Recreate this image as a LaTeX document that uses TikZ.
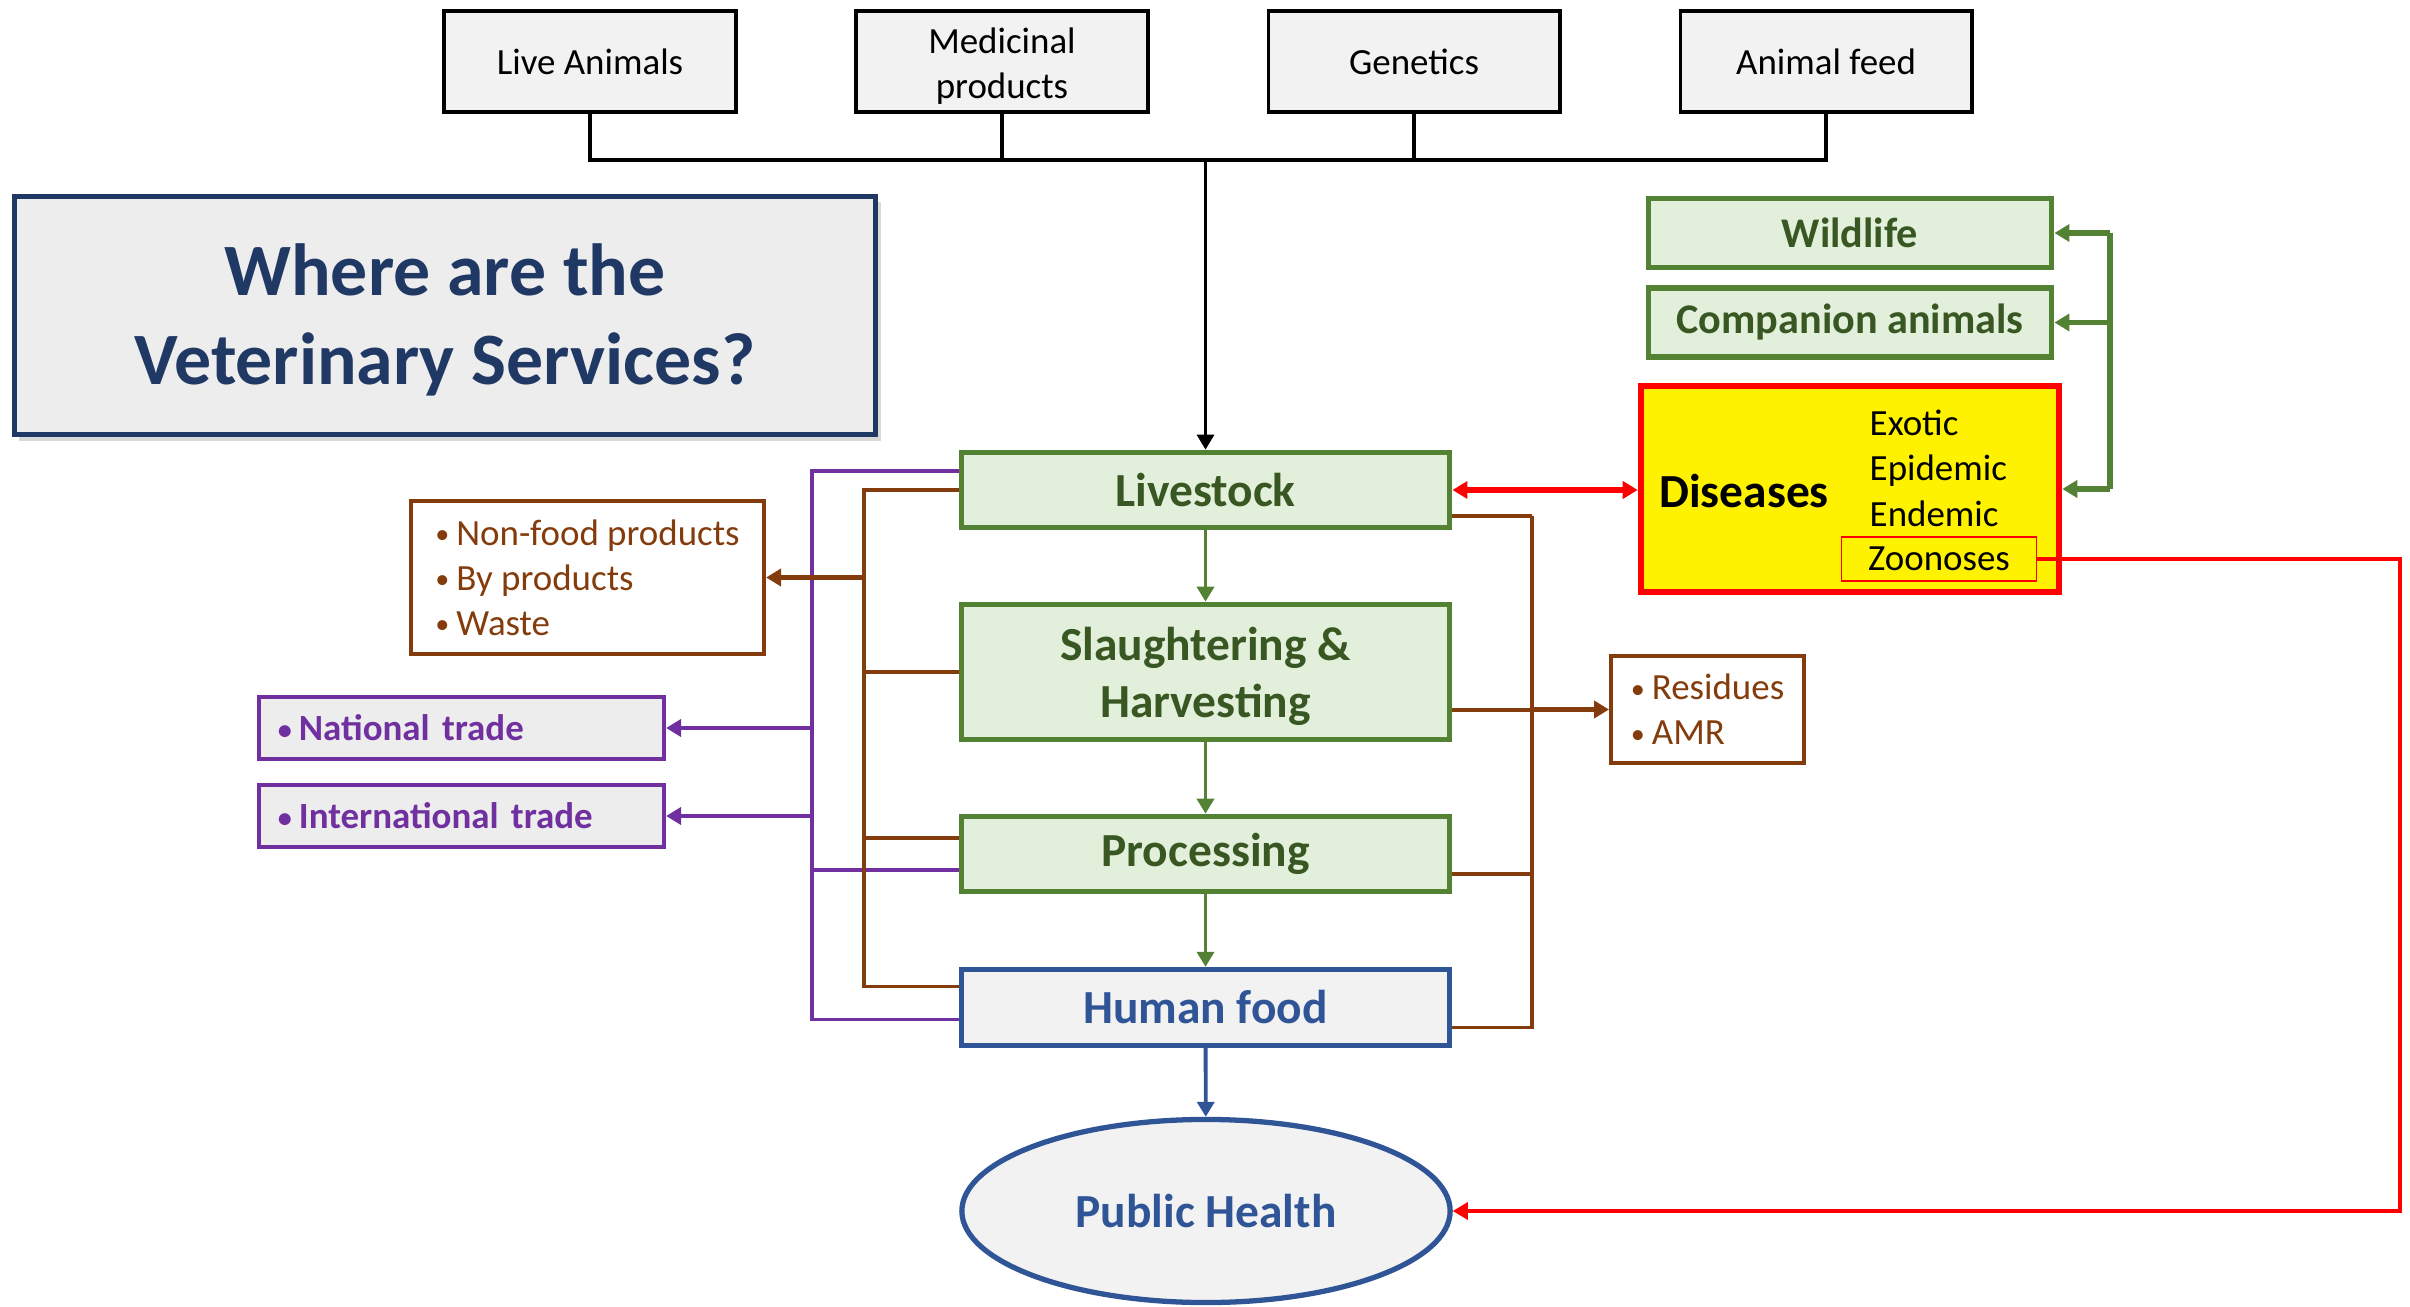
\documentclass[tikz,border=0pt]{standalone}
\usepackage{fontspec}
\setmainfont{Carlito}
\usepackage{xcolor}
\usetikzlibrary{arrows.meta,shapes.geometric,shadows}
\definecolor{vsgreen}{HTML}{548235}
\definecolor{vsgreenfill}{HTML}{E2EFDA}
\definecolor{vsgreentext}{HTML}{385723}
\definecolor{vsbrown}{HTML}{843C0C}
\definecolor{vspurple}{HTML}{7030A0}
\definecolor{vsblue}{HTML}{2F5597}
\definecolor{vsnavy}{HTML}{203864}
\definecolor{vsgray}{HTML}{F2F2F2}
\definecolor{vsgraydark}{HTML}{EDEDED}
\newcommand{\vssmall}{\fontsize{10.5pt}{12.8pt}\selectfont}
\newcommand{\vsmid}{\fontsize{12pt}{14.5pt}\selectfont\bfseries}
\newcommand{\vsbig}{\fontsize{13.5pt}{16.4pt}\selectfont\bfseries}
\newcommand{\vstitle}{\fontsize{21pt}{25.3pt}\selectfont\bfseries}
\newcommand{\vsbullet}{\raisebox{0.5pt}{\fontsize{8pt}{8pt}\selectfont\textbullet}\hspace{0.07cm}}

\begin{document}
\begin{tikzpicture}[x=0.01cm, y=-0.01cm, >={Triangle[length=1.5mm, width=1.7mm]}]
\useasboundingbox (0,0) rectangle (2410,1307);
\tikzstyle{topbox} = [draw=black, line width=1.1pt, fill=vsgray, minimum width=2.91cm, minimum height=1.01cm, inner sep=0pt, align=center, font=\vssmall]
\tikzstyle{greenbox} = [draw=vsgreen, line width=1.6pt, fill=vsgreenfill, text=vsgreentext, minimum width=4.88cm, inner sep=0pt, align=center, font=\vsbig]
\tikzstyle{sidebox} = [greenbox, font=\vsmid, minimum width=4.03cm, minimum height=0.69cm]
\tikzstyle{bluebox} = [draw=vsblue, line width=1.5pt, fill=vsgray, text=vsblue, inner sep=0pt, font=\vsbig]
\tikzstyle{brownbox} = [draw=vsbrown, line width=1.1pt, fill=white, text=vsbrown, inner sep=0pt, align=left, font=\vssmall]
\tikzstyle{tradebox} = [draw=vspurple, line width=1.1pt, fill=vsgraydark, text=vspurple, inner xsep=0.19cm, inner ysep=0pt, text width=3.67cm, minimum height=0.62cm, align=left, font=\vssmall\bfseries]
\tikzstyle{listitem} = [anchor=west, inner sep=0pt, font=\vssmall, text height=6.8pt, text depth=0pt]
\tikzstyle{blackline} = [draw=black, line width=0.9pt]
\tikzstyle{greenarrow} = [->, draw=vsgreen, line width=1.1pt]
\tikzstyle{greentree} = [draw=vsgreen, line width=1.5pt]
\tikzstyle{brownline} = [draw=vsbrown, line width=0.9pt]
\tikzstyle{brownarrow} = [->, draw=vsbrown, line width=1.4pt]
\tikzstyle{purpleline} = [draw=vspurple, line width=0.9pt]
\tikzstyle{purplearrow} = [->, draw=vspurple, line width=1.1pt]
\node[topbox] (la) at (590,61.5) {Live Animals};
\node[topbox] (mp) at (1002,61.5) {\rule{0pt}{10pt}Medicinal\\products};
\node[topbox] (gen) at (1414,61.5) {Genetics};
\node[topbox] (feed) at (1826,61.5) {Animal feed};
\node[draw=vsnavy, line width=1.5pt, fill=vsgraydark, text=vsnavy, minimum width=8.61cm, minimum height=2.38cm, align=center, font=\vstitle, drop shadow={shadow xshift=0.05cm, shadow yshift=-0.06cm, opacity=0.3}] (title) at (445,315.5) {\rule{0pt}{17.3pt}Where are the\\Veterinary Services?};
\node[greenbox, minimum height=0.75cm] (live) at (1205.5,490) {Livestock};
\node[greenbox, minimum height=1.35cm] (slau) at (1205.5,672) {\rule{0pt}{12pt}Slaughtering \&\\Harvesting};
\node[greenbox, minimum height=0.75cm] (proc) at (1205.5,854) {Processing};
\node[bluebox, minimum width=4.88cm, minimum height=0.76cm] (food) at (1205.5,1007.5) {Human food};
\node[bluebox, ellipse, minimum width=4.88cm, minimum height=1.83cm] (ph) at (1206,1211) {Public Health};
\node[sidebox] (wild) at (1850,233) {Wildlife};
\node[sidebox] (comp) at (1850,322.5) {Companion animals};
\node[draw=red, line width=1.8pt, fill=yellow, minimum width=4.18cm, minimum height=2.06cm] (dis) at (1850,489) {};
\node[font=\vsbig, inner sep=0pt, text height=8.7pt, text depth=0pt] (dname) at (1744,492.5) {Diseases};
\node[listitem] (exo) at (1869,423.5) {Exotic};
\node[listitem] (epi) at (1869,469) {Epidemic};
\node[listitem] (endo) at (1869,514.5) {Endemic};
\node[draw=red, line width=0.5pt, minimum width=1.95cm, minimum height=0.44cm, inner sep=0pt, font=\vssmall, text height=6.8pt, text depth=0pt] (zoo) at (1939,559) {Zoonoses};
\node[brownbox, minimum width=3.53cm, minimum height=1.53cm] (nonfood) at (587.5,577.5) {\vsbullet Non-food products\\\vsbullet By products\\\vsbullet Waste};
\node[brownbox, minimum width=1.93cm, minimum height=1.07cm] (res) at (1707.5,709.5) {\vsbullet Residues\\\vsbullet AMR};
\node[tradebox] (nat) at (461.5,728) {\vsbullet National trade};
\node[tradebox] (intl) at (461.5,816) {\vsbullet International trade};
\coordinate (hub) at (1205.5,160);
\draw[blackline] (la.south) |- (hub);
\draw[blackline] (mp.south) |- (hub);
\draw[blackline] (gen.south) |- (hub);
\draw[blackline] (feed.south) |- (hub);
\draw[blackline, ->] (hub) -- (live.north);
\draw[greenarrow] (live) -- (slau);
\draw[greenarrow] (slau) -- (proc);
\draw[greenarrow] (proc) -- (food);
\draw[->, draw=vsblue, line width=1.1pt] (food) -- (ph);
\draw[<->, draw=red, line width=1.7pt] (live.east) -- (live.east -| dis.west);
\coordinate (gx) at (2110,233);
\draw[greentree] (gx) -- (gx |- dis.east);
\draw[greentree, ->] (gx |- wild.east) -- (wild.east);
\draw[greentree, ->] (gx |- comp.east) -- (comp.east);
\draw[greentree, ->] (gx |- dis.east) -- (dis.east);
\coordinate (px) at (812,471);
\draw[purpleline] ([yshift=.19cm]live.west) -| (px) |- ([yshift=-.12cm]food.west);
\draw[purpleline] ([yshift=-.16cm]proc.west) -- ([yshift=-.16cm]proc.west -| px);
\draw[purplearrow] (px |- nat.east) -- (nat.east);
\draw[purplearrow] (px |- intl.east) -- (intl.east);
\coordinate (bx) at (864,490);
\draw[brownline] (live.west) -| (bx) |- ([yshift=.21cm]food.west);
\draw[brownline] (slau.west) -- (slau.west -| bx);
\draw[brownline] ([yshift=.16cm]proc.west) -- ([yshift=.16cm]proc.west -| bx);
\draw[brownarrow] (bx |- nonfood.east) -- (nonfood.east);
\coordinate (rx) at (1532,516);
\draw[brownline] ([yshift=-.26cm]live.east) -| (rx) |- ([yshift=-.2cm]food.east);
\draw[brownline] ([yshift=-.2cm]proc.east) -- ([yshift=-.2cm]proc.east -| rx);
\draw[brownline] ([yshift=-.38cm]slau.east) -- ([yshift=-.38cm]slau.east -| rx);
\draw[brownarrow] (rx |- res.west) -- (res.west);
\coordinate (zx) at (2400,559);
\draw[->, draw=red, line width=0.9pt] (zoo.east) -| (zx) |- (ph.east);
\end{tikzpicture}
\end{document}
